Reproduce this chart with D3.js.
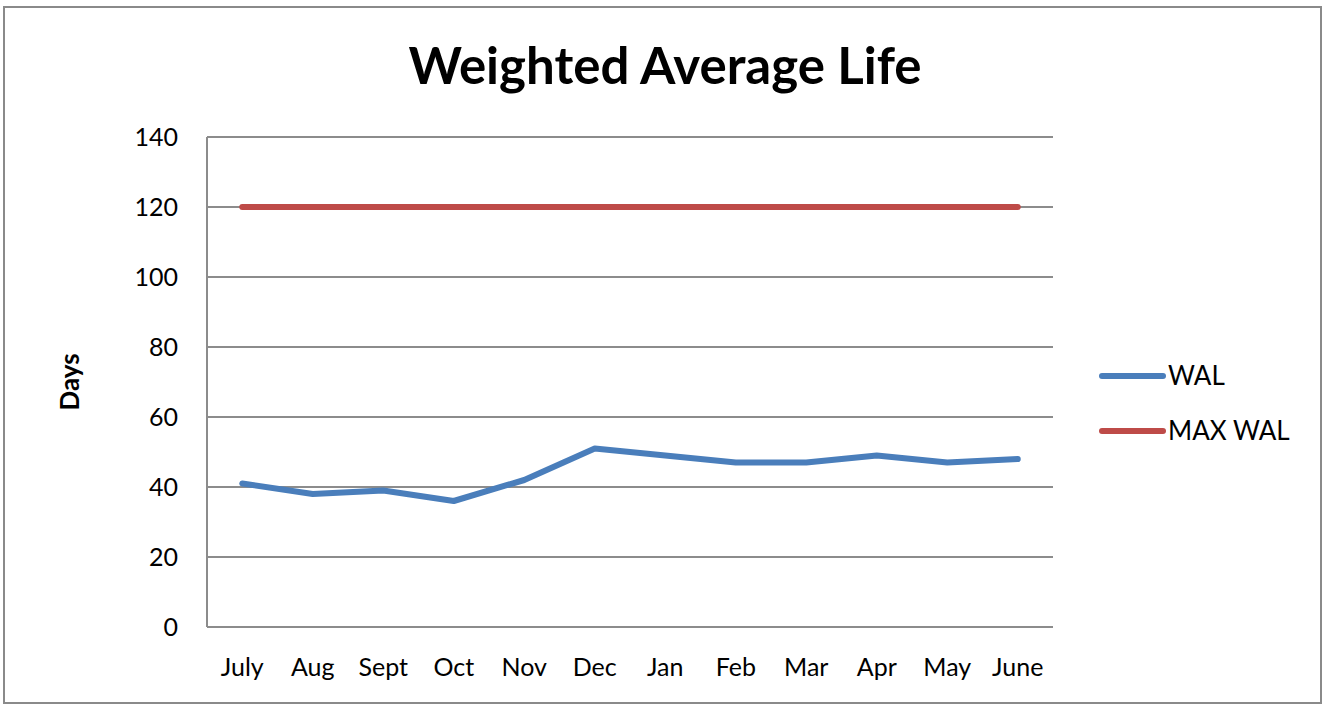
<!DOCTYPE html>
<html lang="en">
<head>
    <meta charset="UTF-8">
    <title>Weighted Average Life</title>
    <script src="https://d3js.org/d3.v7.min.js"></script>
    <style>
        body { margin: 0; background: #fff; }
        text { font-family: Lato, "Open Sans", sans-serif; fill: #000; }
        .grid line { stroke: #8c8c8c; stroke-width: 2; shape-rendering: crispEdges; }
        .axis path, .axis line { display: none; }
        .series { fill: none; stroke-width: 6; stroke-linejoin: round; stroke-linecap: round; }
    </style>
</head>
<body>
<div id="chart"></div>
<script>
    // data
    var months = ["July", "Aug", "Sept", "Oct", "Nov", "Dec", "Jan", "Feb", "Mar", "Apr", "May", "June"];
    var walValues = [41, 38, 39, 36, 42, 51, 49, 47, 47, 49, 47, 48];
    var maxWalValues = [120, 120, 120, 120, 120, 120, 120, 120, 120, 120, 120, 120];
    var yTicks = [0, 20, 40, 60, 80, 100, 120, 140];
    var seriesNames = ["WAL", "MAX WAL"];
    var seriesColors = ["#4a7ebb", "#be4b48"];

    var W = 1328, H = 705;
    var margin = { top: 137, right: 275, bottom: 78, left: 207 };
    var width = W - margin.left - margin.right;
    var height = H - margin.top - margin.bottom;

    var svg = d3.select("#chart").append("svg")
        .attr("width", W)
        .attr("height", H);

    // frame
    svg.append("rect")
        .attr("x", 4).attr("y", 7)
        .attr("width", 1317).attr("height", 696)
        .attr("fill", "#fff")
        .attr("stroke", "#8a8a8a")
        .attr("stroke-width", 2);

    svg.append("text")
        .attr("x", 665).attr("y", 84)
        .attr("text-anchor", "middle")
        .style("font-size", "51px")
        .style("font-weight", "bold")
        .text("Weighted Average Life");

    var g = svg.append("g")
        .attr("transform", "translate(" + margin.left + "," + margin.top + ")");

    var x = d3.scaleBand().domain(months).range([0, width]);
    var y = d3.scaleLinear().domain([0, 140]).range([height, 0]);

    // gridlines
    g.append("g").attr("class", "grid")
        .selectAll("line").data(yTicks).enter().append("line")
        .attr("x1", 0).attr("x2", width)
        .attr("y1", function (d) { return y(d); })
        .attr("y2", function (d) { return y(d); });

    g.append("g").attr("class", "grid")
        .append("line")
        .attr("x1", 0).attr("x2", 0)
        .attr("y1", 0).attr("y2", height);

    var yAxis = g.append("g").attr("class", "axis")
        .call(d3.axisLeft(y).tickValues(yTicks).tickSize(0).tickPadding(29));
    yAxis.selectAll("text").style("font-size", "25px").attr("dy", "0.35em");

    var xAxis = g.append("g").attr("class", "axis")
        .attr("transform", "translate(0," + height + ")")
        .call(d3.axisBottom(x).tickSize(0).tickPadding(0));
    xAxis.selectAll("text").style("font-size", "25px").attr("y", 40).attr("dy", "0.35em");

    svg.append("text")
        .attr("transform", "translate(70,382) rotate(-90)")
        .attr("text-anchor", "middle")
        .attr("dy", "0.35em")
        .style("font-size", "26px")
        .style("font-weight", "bold")
        .text("Days");

    var line = d3.line()
        .x(function (d, i) { return x(months[i]) + x.bandwidth() / 2; })
        .y(function (d) { return y(d); });

    [walValues, maxWalValues].forEach(function (vals, i) {
        g.append("path")
            .attr("class", "series")
            .attr("stroke", seriesColors[i])
            .attr("d", line(vals));
    });

    // legend
    var legend = svg.append("g");
    seriesNames.forEach(function (name, i) {
        var ly = 376 + i * 55;
        legend.append("line")
            .attr("x1", 1102).attr("x2", 1163)
            .attr("y1", ly).attr("y2", ly)
            .attr("stroke", seriesColors[i])
            .attr("stroke-width", 6)
            .attr("stroke-linecap", "round");
        legend.append("text")
            .attr("x", 1168).attr("y", ly)
            .attr("dy", "0.35em")
            .style("font-size", "26px")
            .text(name);
    });
</script>
</body>
</html>
